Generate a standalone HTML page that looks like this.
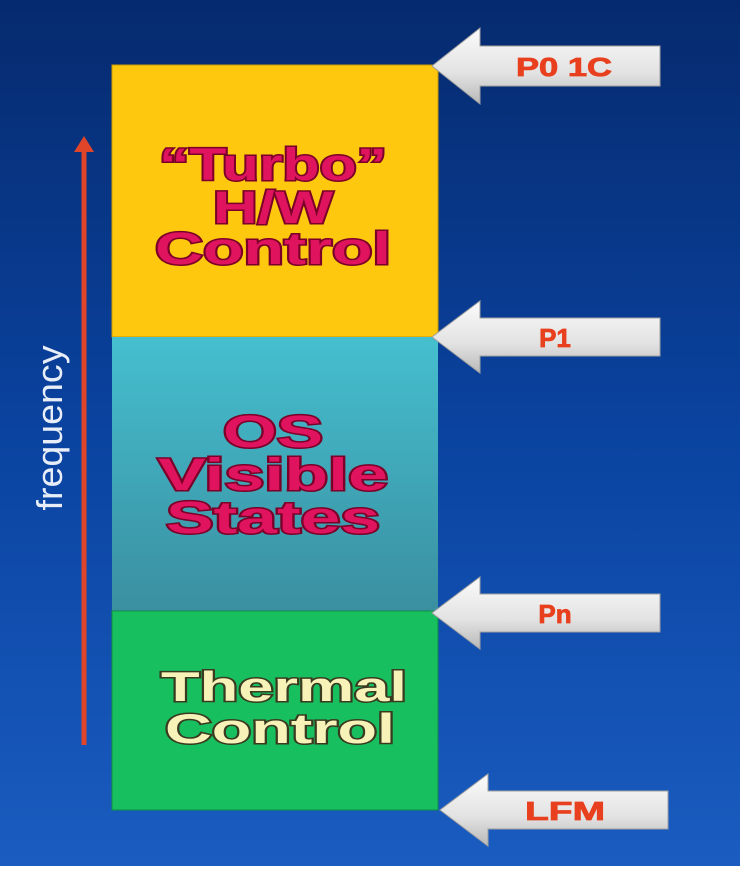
<!DOCTYPE html>
<html><head><style>
body{margin:0;width:740px;height:872px;overflow:hidden;background:#fff}
text{paint-order:stroke}
</style></head><body>
<svg width="740" height="872" xmlns="http://www.w3.org/2000/svg">
<defs>
<linearGradient id="bg" x1="0" y1="0" x2="0" y2="1">
<stop offset="0" stop-color="#062a6e"/><stop offset="0.5" stop-color="#0a43a0"/><stop offset="1" stop-color="#1a5cc0"/>
</linearGradient>
<linearGradient id="ar" x1="0" y1="0" x2="0" y2="1">
<stop offset="0" stop-color="#fbfbfb"/><stop offset="0.6" stop-color="#e2e2e2"/><stop offset="1" stop-color="#b8b8b8"/>
</linearGradient>
<linearGradient id="teal" x1="0" y1="0" x2="0" y2="1">
<stop offset="0" stop-color="#45bfcf"/><stop offset="1" stop-color="#3a8fa0"/>
</linearGradient>
<g id="arrow">
<path d="M0 0 L48 -38 L48 -20 L228 -20 L228 20 L48 20 L48 38 Z" fill="url(#ar)" stroke="#a0a0a0" stroke-width="1"/>
</g>
</defs>
<rect width="740" height="866" fill="url(#bg)"/>
<rect x="112" y="65" width="326" height="272" fill="#fdc80e" stroke="#c99a00"/>
<rect x="112" y="337" width="326" height="274" fill="url(#teal)"/>
<rect x="112" y="611" width="326" height="199" fill="#18bf5e" stroke="#0d8f44"/>
<line x1="84" y1="745" x2="84" y2="150" stroke="#e0452a" stroke-width="5"/>
<path d="M74 152 L84 136 L94 152 Z" fill="#e0452a"/>
<text transform="translate(62,428) rotate(-90)" text-anchor="middle" font-family="Liberation Sans, sans-serif" font-size="36" fill="#e8eef8" textLength="165" lengthAdjust="spacingAndGlyphs">frequency</text>
<g font-family="Liberation Sans, sans-serif" font-weight="bold" font-size="45" text-anchor="middle" fill="#e0135e" stroke="#7a0028" stroke-width="3">
<text x="273" y="180" textLength="228" lengthAdjust="spacingAndGlyphs">“Turbo”</text>
<text x="273" y="223" textLength="120" lengthAdjust="spacingAndGlyphs">H/W</text>
<text x="273" y="264" textLength="236" lengthAdjust="spacingAndGlyphs">Control</text>
<text x="273" y="447" textLength="100" lengthAdjust="spacingAndGlyphs">OS</text>
<text x="273" y="490" textLength="230" lengthAdjust="spacingAndGlyphs">Visible</text>
<text x="273" y="533" textLength="214" lengthAdjust="spacingAndGlyphs">States</text>
</g>
<g font-family="Liberation Sans, sans-serif" font-weight="bold" font-size="42" text-anchor="middle" fill="#f6f2b8" stroke="#3a3a20" stroke-width="3">
<text x="284" y="701" textLength="246" lengthAdjust="spacingAndGlyphs">Thermal</text>
<text x="280" y="743" textLength="230" lengthAdjust="spacingAndGlyphs">Control</text>
</g>
<use href="#arrow" transform="translate(432,66)"/>
<use href="#arrow" transform="translate(432,337) scale(1,0.95)"/>
<use href="#arrow" transform="translate(432,613) scale(1,0.95)"/>
<use href="#arrow" transform="translate(440,810) scale(1,0.95)"/>
<g font-family="Liberation Sans, sans-serif" font-weight="bold" font-size="26" text-anchor="middle" fill="#e8401e" stroke="#e8401e" stroke-width="0.8">
<text x="564" y="76" textLength="96" lengthAdjust="spacingAndGlyphs">P0 1C</text>
<text x="555" y="347">P1</text>
<text x="555" y="623">Pn</text>
<text x="565" y="820" textLength="80" lengthAdjust="spacingAndGlyphs">LFM</text>
</g>
</svg>
</body></html>
